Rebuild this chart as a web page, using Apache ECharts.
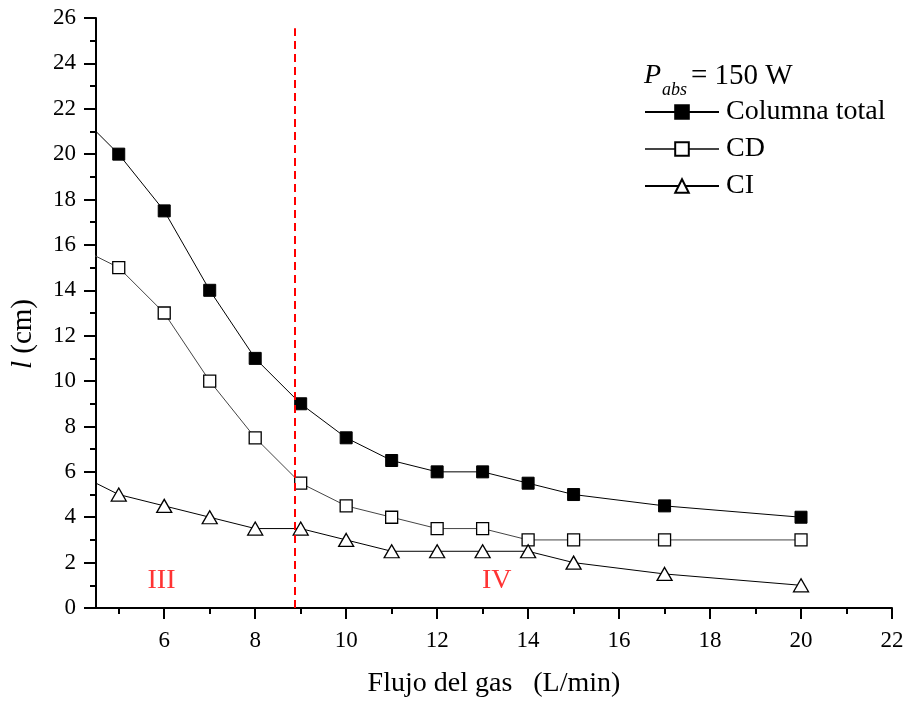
<!DOCTYPE html>
<html>
<head>
<meta charset="utf-8">
<script src="https://cdn.jsdelivr.net/npm/echarts@6/dist/echarts.min.js"></script>
<style>
html,body{margin:0;padding:0;background:#fff;}
#chart{width:905px;height:702px;}
</style>
</head>
<body>
<div id="chart"></div>
<script>
// ---- data ----
const flows = [4, 5, 6, 7, 8, 9, 10, 11, 12, 13, 14, 15, 17, 20];
const total = [22, 20, 17.5, 14, 11, 9, 7.5, 6.5, 6, 6, 5.5, 5, 4.5, 4];
const cd    = [16, 15, 13, 10, 7.5, 5.5, 4.5, 4, 3.5, 3.5, 3, 3, 3, 3];
const ci    = [6, 5, 4.5, 4, 3.5, 3.5, 3, 2.5, 2.5, 2.5, 2.5, 2, 1.5, 1];
const seriesNames = ['Columna total', 'CD', 'CI'];
const xMajorTicks = [6, 8, 10, 12, 14, 16, 18, 20, 22];
const xMinorTicks = [5, 7, 9, 11, 13, 15, 17, 19, 21];
const boundaryX = 8.88;
const boundaryTop = 25.55;
const regionNames = ['III', 'IV'];
const regionX = [5.94, 13.31];
const regionY = [1.2, 1.2];

const FONT = '"Liberation Serif", "Times New Roman", serif';
const pairs = ys => flows.map((x, i) => [x, ys[i]]);

const chart = echarts.init(document.getElementById('chart'), null, {renderer: 'canvas'});
const axisLineStyle = {color: '#000', width: 2};

const option = {
  animation: false,
  backgroundColor: '#fff',
  textStyle: {fontFamily: FONT, color: '#000'},
  grid: {left: 96, right: 13, top: 18, bottom: 94, containLabel: false, outerBoundsMode: 'none'},
  legend: {
    orient: 'vertical',
    left: 644,
    top: 98,
    padding: 0,
    itemWidth: 74,
    itemHeight: 17,
    itemGap: 9,
    data: seriesNames,
    textStyle: {fontFamily: FONT, fontSize: 28, color: '#000', padding: [0,0,0,2]}
  },
  graphic: [
    {type: 'text', left: 644, top: 62, style: {text: 'P', fontFamily: FONT, fontSize: 28, fontStyle: 'italic', fill: '#000'}},
    {type: 'text', left: 662, top: 81, style: {text: 'abs', fontFamily: FONT, fontSize: 18, fontStyle: 'italic', fill: '#000'}},
    {type: 'text', left: 691, top: 62, style: {text: '= 150 W', fontFamily: FONT, fontSize: 29, fill: '#000'}},
    {type: 'text', x: 23, y: 334, rotation: Math.PI / 2,
      style: {text: '{i|l} (cm)', fontFamily: FONT, fontSize: 29, fill: '#000', align: 'center', verticalAlign: 'middle',
        rich: {i: {fontFamily: FONT, fontSize: 29, fontStyle: 'italic', fill: '#000'}}}}
  ],
  xAxis: [{
    type: 'value', min: 4.5, max: 22, position: 'bottom',
    name: 'Flujo del gas   (L/min)', nameLocation: 'middle', nameGap: 62,
    nameTextStyle: {fontFamily: FONT, fontSize: 28, color: '#000'},
    axisLine: {show: true, lineStyle: axisLineStyle},
    axisTick: {show: true, customValues: xMajorTicks, length: 11, lineStyle: axisLineStyle},
    axisLabel: {customValues: xMajorTicks, fontFamily: FONT, fontSize: 23, color: '#000', margin: 21},
    splitLine: {show: false}
  }, {
    type: 'value', min: 4.5, max: 22, position: 'bottom',
    axisLine: {show: false},
    axisTick: {show: true, customValues: xMinorTicks, length: 6, lineStyle: axisLineStyle},
    axisLabel: {show: false},
    splitLine: {show: false}
  }],
  yAxis: {
    type: 'value', min: 0, max: 26, interval: 2,
    axisLine: {show: true, lineStyle: axisLineStyle},
    axisTick: {show: true, length: 12, lineStyle: axisLineStyle},
    minorTick: {show: true, splitNumber: 2, length: 6, lineStyle: axisLineStyle},
    axisLabel: {fontFamily: FONT, fontSize: 23, color: '#000', margin: 20},
    splitLine: {show: false}
  },
  series: [
    {
      name: seriesNames[0], type: 'line', data: pairs(total),
      symbol: 'rect', symbolSize: 12, clip: true,
      lineStyle: {color: '#000', width: 1},
      itemStyle: {color: '#000', borderColor: '#000', borderWidth: 1},
      markLine: {
        silent: true, symbol: ['none', 'none'], label: {show: false},
        lineStyle: {color: '#ff0000', type: [8, 5], width: 2},
        data: [[{coord: [boundaryX, 0]}, {coord: [boundaryX, boundaryTop]}]]
      }
    },
    {
      name: seriesNames[1], type: 'line', data: pairs(cd),
      symbol: 'rect', symbolSize: 12, clip: true,
      lineStyle: {color: '#444', width: 1},
      itemStyle: {color: '#fff', borderColor: '#000', borderWidth: 1.3}
    },
    {
      name: seriesNames[2], type: 'line', data: pairs(ci),
      symbol: 'triangle', symbolSize: [15, 13], clip: true,
      lineStyle: {color: '#000', width: 1},
      itemStyle: {color: '#fff', borderColor: '#000', borderWidth: 1.3}
    },
    {
      name: 'regions', type: 'scatter', symbolSize: 0, silent: true,
      data: regionNames.map((n, i) => ({name: n, value: [regionX[i], regionY[i]]})),
      label: {show: true, position: 'inside', formatter: '{b}', fontFamily: FONT, fontSize: 28, color: '#ff0000'}
    }
  ]
};
chart.setOption(option);
</script>
</body>
</html>
